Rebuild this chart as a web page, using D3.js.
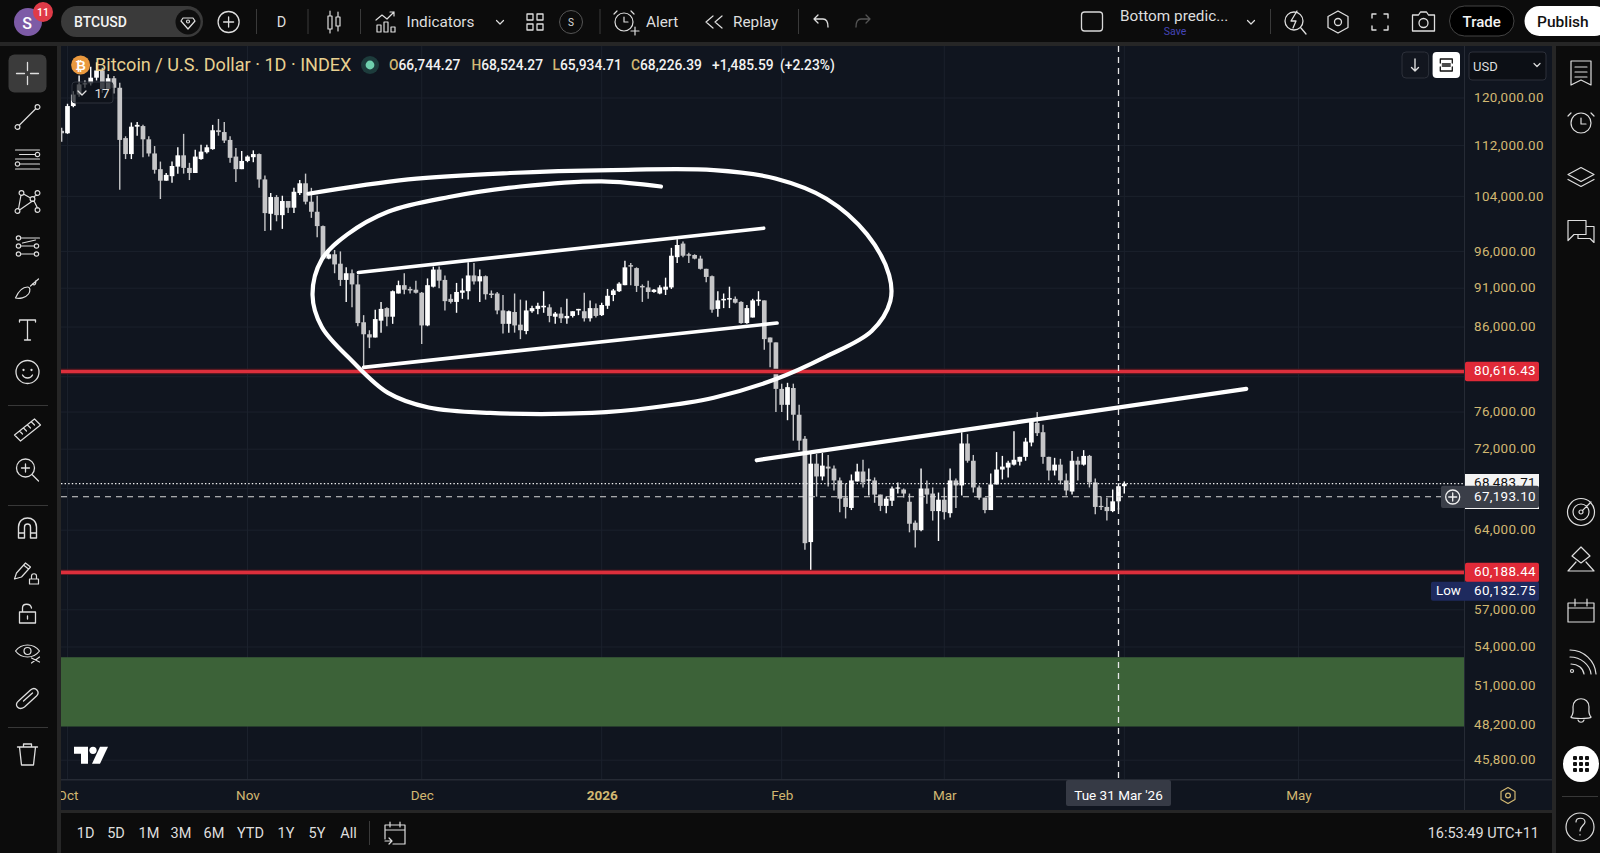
<!DOCTYPE html>
<html>
<head>
<meta charset="utf-8">
<title>BTCUSD 1D</title>
<script src="https://cdn.jsdelivr.net/npm/d3@7/dist/d3.min.js"></script>
<style>
  html, body { margin: 0; padding: 0; background: #0c0c0c; overflow: hidden; }
  svg { display: block; }
  text { font-family: Roboto, "Open Sans", sans-serif; }
</style>
</head>
<body>
<svg id="chart" width="1600" height="853"></svg>
<script>
// Daily sessions in thousands of USD, one value per day starting 30 Sep 2025.
const firstSession = "2025-09-30";
const opens = [
  114.4,114.0,118.6,120.6,122.4,122.6,123.6,124.9,121.6,123.5,
  121.8,113.2,110.6,115.1,115.2,113.0,110.7,108.2,106.4,107.1,
  108.6,110.4,108.4,107.6,109.8,110.9,111.4,114.5,114.2,112.9,
  110.2,108.2,109.5,110.1,110.6,106.6,101.4,103.9,101.2,103.3,
  102.3,104.5,106.0,103.2,101.7,99.6,95.0,95.6,94.3,92.1,
  93.0,91.5,86.6,85.1,84.7,86.8,88.4,87.3,90.3,91.4,
  90.9,90.8,90.4,86.2,91.2,93.5,92.1,89.6,89.2,90.4,
  90.6,92.7,91.9,92.6,90.3,90.3,88.1,86.4,87.9,86.3,
  85.5,88.0,88.3,88.5,88.5,87.3,87.7,87.1,87.4,88.1,
  88.0,87.1,88.4,87.5,88.7,90.1,90.6,91.4,94.1,93.7,
  91.3,91.1,90.5,90.3,90.8,91.1,95.2,97.1,95.6,95.5,
  95.0,93.6,92.6,88.3,89.4,89.5,89.6,89.2,86.5,87.2,
  89.3,89.4,84.7,84.1,78.6,76.8,78.7,75.7,73.1,62.9,
  70.5,69.2,70.2,70.0,68.8,67.1,66.1,68.7,69.7,68.8,
  68.8,67.4,66.3,66.8,68.0,67.9,66.7,64.7,64.0,68.0,
  67.5,65.8,66.9,65.6,68.8,68.3,72.6,70.8,68.1,67.1,
  65.9,68.4,69.9,70.1,70.4,70.7,71.2,72.7,74.8,73.8,
  71.2,69.8,70.4,68.8,67.7,70.8,70.4,71.3,68.6,66.3,
  66.2,65.8,66.74427,68.22639
];
const highs = [
  114.9,119.0,121.2,124.0,123.1,125.6,126.4,125.4,124.2,123.9,
  122.7,113.5,115.8,115.9,115.4,113.5,111.9,109.4,107.6,109.4,
  111.7,113.9,109.2,111.3,112.1,112.1,115.4,116.4,115.9,113.5,
  111.6,111.1,110.4,111.2,110.7,107.2,104.5,104.2,104.1,103.3,
  105.3,106.5,107.5,105.3,104.1,99.7,96.2,96.2,96.0,93.8,
  93.5,92.8,87.5,85.6,88.2,89.2,88.5,90.7,92.0,93.0,
  91.2,92.0,90.5,92.3,93.9,93.9,92.7,90.2,91.7,92.3,
  94.5,94.4,93.5,92.7,90.7,90.5,90.1,88.1,90.3,89.5,
  89.4,88.7,89.1,90.6,88.9,87.9,88.5,89.6,88.0,88.3,
  90.4,89.4,89.0,89.1,90.9,90.9,91.8,94.7,94.4,93.8,
  91.5,92.0,90.9,91.4,92.4,96.5,97.7,97.4,95.8,95.6,
  95.4,93.6,92.7,90.6,90.3,91.2,89.9,89.3,88.8,89.6,
  90.6,89.4,84.7,84.1,79.2,79.3,79.2,76.8,73.4,71.5,
  71.5,71.6,71.4,70.3,69.1,68.5,69.4,70.5,70.9,70.0,
  69.1,67.4,67.2,68.2,68.6,68.0,67.5,64.9,70.0,68.8,
  68.1,67.6,68.1,70.0,69.0,73.8,73.6,71.4,68.3,67.1,
  69.5,71.7,71.3,70.8,73.9,71.2,73.2,75.2,76.0,74.6,
  71.2,71.1,71.0,69.5,71.8,71.2,71.9,71.4,69.0,67.2,
  67.1,67.9,68.52427,68.7
];
const lows = [
  112.6,113.9,118.4,120.2,121.8,122.2,123.1,120.9,121.3,120.8,
  105.0,109.8,109.8,113.6,110.1,110.2,107.5,103.6,106.4,106.1,
  107.5,107.5,106.5,107.6,109.7,110.7,111.3,113.6,112.4,109.2,
  106.2,108.2,109.3,109.3,105.3,98.9,99.0,100.3,99.2,101.5,
  101.5,104.2,102.8,100.8,98.0,94.9,94.9,93.0,91.3,89.2,
  88.5,86.1,80.9,83.4,84.7,85.3,86.1,86.4,90.3,90.2,
  90.3,90.3,83.9,86.1,91.1,91.0,88.1,89.0,87.8,89.6,
  89.5,91.5,89.2,89.5,89.7,87.6,85.2,85.3,85.3,84.5,
  85.1,87.8,87.6,87.8,86.6,86.4,86.5,86.4,87.2,87.5,
  86.7,86.7,87.2,87.4,88.3,89.3,90.5,91.4,91.4,90.5,
  89.2,89.6,90.4,90.2,90.1,90.9,94.4,95.2,94.4,94.9,
  93.5,91.8,87.8,87.3,88.4,88.4,89.0,86.4,86.4,87.2,
  88.7,83.2,81.1,76.0,76.0,75.1,72.9,71.9,62.2,60.13275,
  67.2,68.8,68.2,67.8,65.7,65.1,65.9,68.7,68.1,67.3,
  66.6,65.8,65.6,66.3,67.5,67.1,63.8,62.4,63.9,66.5,
  64.9,63.0,65.0,65.2,66.1,67.3,70.6,67.6,66.9,65.6,
  65.9,68.4,68.9,69.1,70.3,70.3,70.8,72.3,73.4,70.5,
  68.8,69.3,68.4,67.3,67.4,68.8,70.3,68.1,65.5,65.9,
  64.9,65.7,65.93471,67.5
];
const closes = [
  114.0,118.6,120.6,122.4,122.6,123.6,124.9,121.6,123.5,121.8,
  112.9,110.6,115.1,115.4,113.0,110.7,108.1,106.4,107.3,108.7,
  110.4,108.4,107.6,110.2,111.0,111.7,114.5,114.2,112.8,110.0,
  108.2,109.5,110.2,110.6,106.6,101.5,103.9,101.2,103.3,102.3,
  104.7,106.0,103.2,101.7,99.6,95.0,95.6,94.2,92.1,93.0,
  91.5,86.5,85.1,84.7,87.0,88.3,87.3,90.6,91.4,90.8,
  90.7,90.4,86.2,91.4,93.5,92.0,89.3,89.2,90.5,90.7,
  92.7,91.9,92.6,90.2,90.1,88.1,86.4,88.0,86.2,85.6,
  88.1,88.4,88.7,88.7,87.4,87.7,87.1,87.4,88.0,88.3,
  87.1,88.4,87.4,88.8,90.0,90.7,91.6,93.8,93.9,91.3,
  91.1,90.5,90.8,91.1,91.2,95.4,96.9,95.4,95.4,95.0,
  93.6,92.5,88.2,89.4,89.6,89.7,89.1,86.5,88.4,89.4,
  89.5,84.5,84.1,78.6,76.8,78.8,75.7,72.9,62.8,70.5,
  69.2,70.3,70.0,68.8,67.0,66.2,68.8,69.7,68.6,68.9,
  67.4,66.3,67.0,68.0,68.1,67.5,64.6,64.0,68.0,67.4,
  65.8,66.9,65.7,68.8,68.3,72.6,70.8,68.1,67.1,65.9,
  68.4,69.9,70.2,70.6,70.9,71.2,72.8,74.9,73.7,71.2,
  69.8,70.4,68.8,67.8,70.8,70.4,71.3,68.6,66.2,66.2,
  65.8,66.7408,68.22639,68.48371
];

// Axis contents. The April gridline has no label: the cursor date tag sits on it.
const priceTicks = [120000,112000,104000,96000,91000,86000,76000,72000,64000,57000,54000,51000,48200,45800];
const monthTicks = ["2025-10-01","2025-11-01","2025-12-01","2026-01-01","2026-02-01","2026-03-01","2026-04-01","2026-05-01"];
const monthLabels = ["Oct","Nov","Dec","2026","Feb","Mar","","May"];

// Reference levels and readouts.
const redLevels = [80616.43, 60188.44];
const lastPrice = 68483.71;
const cursorPrice = 67193.10;
const cursorDate = "2026-03-31";
const lowPrice = 60132.75;
const demandZone = [53200, 48100];

// Drawn trend lines and the freehand loop: [days after 1 Nov 2025, price in thousands].
const channelTop = [[19.1,93.1],[88.9,99.3]];
const channelBottom = [[20,81.1],[91.2,86.5]];
const risingLine = [[87.7,70.85],[172,78.6]];
const freehandLoop = [[10.5,104.4],[27.7,106.6],[45.2,107.6],[62.8,108.05],[80.3,108.05],[90.9,106.75],[99.7,103.65],[106.7,98.4],[110.5,92.75],[110.7,89.3],[107.5,85.5],[99.7,82.4],[90.9,79.7],[80.3,77.6],[69.8,76.5],[59.3,75.9],[41.8,75.9],[31.2,76.5],[24.2,78.15],[18.1,81.8],[12.8,86.0],[11.2,90.1],[12.8,94.9],[17.2,98.4],[24.2,101.7],[34.7,103.9],[47,105.5],[61,106.3],[71.2,105.5]];

// Layout.
const pane = { left: 61, right: 1464, top: 46, bottom: 779 };
const scaleRight = 1552;
const axisBottom = 810;
const GOLD = "#d2b872";
const NAVY = "#10151f";
const CHROME = "#0c0c0c";
const INK = "#dedede";
const RED = "#dc2f3c";

const utc = s => new Date(s + "T00:00:00Z");
const x = d3.scaleUtc().domain([utc("2025-11-01"), utc("2026-05-01")]).range([247.5, 1298.5]);
const y = d3.scaleLog().domain([120000, 45800]).range([98, 760.2]);
const dayX = d => x(new Date(+utc("2025-11-01") + d * 864e5));
const fmt = d3.format(",.2f");

const svg = d3.select("#chart");
const rect = (g, a, b, c, d, fill, extra = {}) => {
  const r = g.append("rect").attr("x", a).attr("y", b).attr("width", c).attr("height", d).attr("fill", fill);
  Object.entries(extra).forEach(([k, v]) => r.attr(k, v));
  return r;
};
const label = (g, a, b, str, size, fill, anchor = "start", weight = 400) =>
  g.append("text").attr("x", a).attr("y", b).attr("dy", "0.35em").attr("font-size", size)
    .attr("fill", fill).attr("text-anchor", anchor).attr("font-weight", weight).text(str);
const ring = (a, b, r) => `M${a - r} ${b}a${r} ${r} 0 1 0 ${2 * r} 0a${r} ${r} 0 1 0 ${-2 * r} 0`;
const icon = (g, a, b, d, w = 1.2, col = INK) =>
  g.append("path").attr("transform", `translate(${a},${b})`).attr("d", d)
    .attr("fill", "none").attr("stroke", col).attr("stroke-width", w)
    .attr("stroke-linecap", "round").attr("stroke-linejoin", "round");

// Window backdrop and chart panels.
rect(svg, 0, 0, 1600, 853, CHROME);
rect(svg, 0, 42, 1600, 4, "#262626");
rect(svg, 57, 46, 4, 807, "#262626");
rect(svg, scaleRight, 46, 4, 807, "#262626");
rect(svg, pane.left, pane.top, scaleRight - pane.left, axisBottom - pane.top, NAVY);
rect(svg, pane.left, axisBottom, scaleRight - pane.left + 4, 3, "#262626");
rect(svg, pane.left, pane.bottom, scaleRight - pane.left, 1.5, "#262b35");
rect(svg, pane.right, pane.top, 1, axisBottom - pane.top, "#262b35");

// Clip regions for the plot and the time axis.
const defs = svg.append("defs");
defs.append("clipPath").attr("id", "plotClip").append("rect")
  .attr("x", pane.left).attr("y", pane.top).attr("width", pane.right - pane.left).attr("height", pane.bottom - pane.top);
defs.append("clipPath").attr("id", "timeClip").append("rect")
  .attr("x", pane.left).attr("y", pane.bottom).attr("width", pane.right - pane.left).attr("height", axisBottom - pane.bottom);

const plot = svg.append("g").attr("clip-path", "url(#plotClip)");

// Grid.
plot.append("g").selectAll("line").data(priceTicks.concat([80000, 68000, 60000])).join("line")
  .attr("x1", pane.left).attr("x2", pane.right).attr("y1", d => y(d)).attr("y2", d => y(d))
  .attr("stroke", "#1b212c").attr("stroke-width", 1);
plot.append("g").selectAll("line").data(monthTicks).join("line")
  .attr("x1", d => x(utc(d))).attr("x2", d => x(utc(d))).attr("y1", pane.top).attr("y2", pane.bottom)
  .attr("stroke", "#1b212c").attr("stroke-width", 1);

// Demand zone.
rect(plot, pane.left, y(demandZone[0]), pane.right - pane.left, y(demandZone[1]) - y(demandZone[0]), "#3c6238");

// Candles.
const sessions = opens.map((o, i) => ({
  date: d3.utcDay.offset(utc(firstSession), i), o: o * 1000, h: highs[i] * 1000, l: lows[i] * 1000, c: closes[i] * 1000
}));
const candles = plot.append("g").selectAll("g").data(sessions).join("g");
const upColor = "#ffffff", downColor = "#c6c6c8";
const tint = d => d.c >= d.o ? upColor : downColor;
candles.append("line")
  .attr("x1", d => x(d.date)).attr("x2", d => x(d.date)).attr("y1", d => y(d.h)).attr("y2", d => y(d.l))
  .attr("stroke", tint).attr("stroke-width", 1.4);
candles.append("rect")
  .attr("x", d => x(d.date) - 2.35).attr("width", 4.7)
  .attr("y", d => y(Math.max(d.o, d.c)))
  .attr("height", d => Math.max(1.2, Math.abs(y(d.o) - y(d.c))))
  .attr("fill", tint);

// Horizontal levels.
plot.append("g").selectAll("line").data(redLevels).join("line")
  .attr("x1", pane.left).attr("x2", pane.right).attr("y1", d => y(d)).attr("y2", d => y(d))
  .attr("stroke", "#5e1a22").attr("stroke-width", 5.4);
plot.append("g").selectAll("line").data(redLevels).join("line")
  .attr("x1", pane.left).attr("x2", pane.right).attr("y1", d => y(d)).attr("y2", d => y(d))
  .attr("stroke", RED).attr("stroke-width", 3.2);

// Drawn lines and the loop.
const strokeLine = d3.line().x(p => dayX(p[0])).y(p => y(p[1] * 1000));
const drawn = plot.append("g").attr("fill", "none").attr("stroke", "#fff").attr("stroke-linecap", "round");
drawn.append("path").attr("d", strokeLine(channelTop)).attr("stroke-width", 3.6);
drawn.append("path").attr("d", strokeLine(channelBottom)).attr("stroke-width", 3.6);
drawn.append("path").attr("d", strokeLine(risingLine)).attr("stroke-width", 4.2);
drawn.append("path").attr("d", strokeLine.curve(d3.curveCatmullRom.alpha(0.5))(freehandLoop)).attr("stroke-width", 4.2);

// Last-price dotted line and cursor lines.
plot.append("line").attr("x1", pane.left).attr("x2", pane.right).attr("y1", y(lastPrice)).attr("y2", y(lastPrice))
  .attr("stroke", "#f2f2f2").attr("stroke-width", 1.2).attr("stroke-dasharray", "1.4 2.2");
plot.append("line").attr("x1", pane.left).attr("x2", pane.right).attr("y1", y(cursorPrice)).attr("y2", y(cursorPrice))
  .attr("stroke", "#d8d8d8").attr("stroke-width", 1.1).attr("stroke-dasharray", "6 5");
plot.append("line").attr("x1", x(utc(cursorDate))).attr("x2", x(utc(cursorDate))).attr("y1", pane.top).attr("y2", pane.bottom)
  .attr("stroke", "#e8e8e8").attr("stroke-width", 1.3).attr("stroke-dasharray", "6 5");

// Price axis.
const priceAxis = d3.axisRight(y).tickValues(priceTicks).tickSize(0).tickPadding(0).tickFormat(fmt);
const priceG = svg.append("g").attr("transform", "translate(1474,-1)").call(priceAxis);
priceG.select(".domain").remove();
priceG.selectAll("text").attr("fill", GOLD).attr("font-size", 13.4).attr("letter-spacing", "0.35px")
  .attr("font-family", "Roboto, sans-serif").attr("x", 0).attr("dy", "0.35em");

// Time axis.
const timeAxis = d3.axisBottom(x).tickValues(monthTicks.map(utc)).tickSize(0).tickPadding(0)
  .tickFormat((d, i) => monthLabels[i]);
const timeG = svg.append("g").attr("clip-path", "url(#timeClip)").append("g")
  .attr("transform", `translate(0,795)`).call(timeAxis);
timeG.select(".domain").remove();
timeG.selectAll("text").attr("fill", GOLD).attr("font-size", 13.5).attr("font-family", "Roboto, sans-serif")
  .attr("y", 0).attr("dy", "0.35em")
  .attr("font-weight", (d, i) => monthLabels[i] === "2026" ? 700 : 400);

// Price tags on the axis.
const tags = svg.append("g");
redLevels.forEach(v => {
  rect(tags, 1465, y(v) - 9.7, 74, 19.4, "#e02a38", { rx: 2 });
  label(tags, 1474, y(v) - 1, fmt(v), 13.4, "#fff").attr("letter-spacing", "0.35px");
});
rect(tags, 1431, 581.7, 108, 19, "#1e2a5e", { rx: 2 });
label(tags, 1436, 590.5, "Low", 13.4, "#fff");
label(tags, 1474, 590.5, fmt(lowPrice), 13.4, "#fff").attr("letter-spacing", "0.35px");
rect(tags, 1465, 474, 74, 35, "#f4f4f4");
label(tags, 1474, y(lastPrice) - 1, fmt(lastPrice), 13.4, "#111").attr("letter-spacing", "0.35px");
rect(tags, 1441, 485.7, 98, 22.3, "#3a3e48", { rx: 2 });
icon(tags, 1452.7, 497, ring(0, 0, 7) + "M-4 0H4M0 -4V4", 1.3, "#f0f0f0");
label(tags, 1474, y(cursorPrice), fmt(cursorPrice), 13.4, "#fff").attr("letter-spacing", "0.35px");

rect(tags, 1066, 780, 105, 26, "#363a45", { rx: 2 });
label(tags, x(utc(cursorDate)), 795, "Tue 31 Mar '26", 13.5, "#fff", "middle");
icon(tags, 1508, 795.5, "M0 -8L7 -4V4L0 8L-7 4V-4Z" + ring(0, 0, 2.4), 1.2, GOLD);

// Legend row over the plot.
const legend = svg.append("g");
legend.append("circle").attr("cx", 80.6).attr("cy", 65).attr("r", 9.5).attr("fill", "#e9983e");
label(legend, 80.6, 65, "₿", 13, "#fff", "middle", 700);
label(legend, 95, 65, "Bitcoin / U.S. Dollar · 1D · INDEX", 18.1, "#e8d08f");
legend.append("circle").attr("cx", 370).attr("cy", 65).attr("r", 9).attr("fill", "#1d3c3c");
legend.append("circle").attr("cx", 370).attr("cy", 65).attr("r", 4.4).attr("fill", "#6fd0ae");
[[389, "O", "66,744.27"], [471.4, "H", "68,524.27"], [552.5, "L", "65,934.71"], [631, "C", "68,226.39"]].forEach(([px, k, v]) => {
  const t = label(legend, px, 65, "", 13.8, "#f2f2f2", "start", 500);
  t.append("tspan").attr("fill", GOLD).text(k);
  t.append("tspan").text(v);
});
label(legend, 712, 65, "+1,485.59", 13.8, "#f2f2f2", "start", 500);
label(legend, 780, 65, "(+2.23%)", 13.8, "#f2f2f2", "start", 500);

// Collapsed-indicators button.
rect(legend, 72, 82, 41, 21, "#0e1219", { rx: 3, stroke: "#2e333d", "fill-opacity": 0.72 });
icon(legend, 82, 93, "M-4 -2L0 2L4 -2", 1.3);
label(legend, 102, 93, "17", 13.5, INK, "middle");

// Pane corner buttons.
rect(legend, 1402, 52, 26.6, 26, "#12161f", { rx: 4, stroke: "#2c303a" });
icon(legend, 1415, 65, "M0 -6V6M-3.5 2.5L0 6L3.5 2.5", 1.4);
rect(legend, 1432.6, 52, 27.4, 26, "#ffffff", { rx: 4 });
icon(legend, 1446.3, 65, "M-6 -2V-6H6V-2M-6 2V6H6V2M-4 -1H4M-4 1H4", 1.3, "#111");
rect(legend, 1469, 52, 77, 28, "#0c0f15", { rx: 3, stroke: "#2c303a" });
label(legend, 1473, 66, "USD", 13, INK);
icon(legend, 1537, 65, "M-3 -1.5L0 1.5L3 -1.5", 1.2);

// Platform logo.
const logo = svg.append("g").attr("transform", "translate(74,746.7)").attr("fill", "#fff");
logo.append("path").attr("d", "M0 0H14V17H7V7H0Z");
logo.append("circle").attr("cx", 19).attr("cy", 3.6).attr("r", 3.6);
logo.append("path").attr("d", "M26 0H34L26 17H18Z");

// Top toolbar.
const topBar = svg.append("g");
topBar.append("circle").attr("cx", 28).attr("cy", 22).attr("r", 14).attr("fill", "#7d5ba6");
label(topBar, 27, 23, "S", 16, "#fff", "middle", 500);
topBar.append("circle").attr("cx", 43).attr("cy", 12).attr("r", 10).attr("fill", "#df3b48");
label(topBar, 43, 12, "11", 10.5, "#fff", "middle", 500);
rect(topBar, 61, 6, 142, 31, "#3a3a3a", { rx: 15.5 });
label(topBar, 74, 22, "BTCUSD", 14, "#f4f4f4", "start", 500);
topBar.append("circle").attr("cx", 188).attr("cy", 22).attr("r", 12.5).attr("fill", "#0e0e0e");
icon(topBar, 188, 22, "M-5 -4H5L7 -1L0 7L-7 -1Z" + ring(0, -0.5, 1.5), 1.2);
icon(topBar, 228.6, 22, ring(0, 0, 10.5) + "M-5 0H5M0 -5V5", 1.3);
[256, 307.5, 360, 599.5, 798, 1270].forEach(px => rect(topBar, px, 9, 1, 25, "#3a3a3a"));
label(topBar, 281.6, 22, "D", 14.5, INK, "middle");
icon(topBar, 334, 22, "M-4 -11V-6M-4 7V11M-6 -6H-2V7H-6ZM4 -10V-5M4 4V9M2 -5H6V4H2Z", 1.2);
icon(topBar, 386, 23, "M-9 9V2H-5V9ZM-2 9V-1H2V9ZM5 9V4H9V9ZM-10 -3L-4 -8L1 -4L8 -11M4 -11H8V-7", 1.2);
label(topBar, 406.5, 22, "Indicators", 15.3, INK);
icon(topBar, 500, 22, "M-3.5 -1.5L0 2L3.5 -1.5", 1.2);
icon(topBar, 535, 22, "M-8 -8h6v6h-6zM2 -8h6v6h-6zM-8 2h6v6h-6zM2 2h6v6h-6z", 1.3);
icon(topBar, 571, 22, ring(0, 0, 11.5), 1, "#555");
label(topBar, 571, 22, "S", 10, "#ddd", "middle");
icon(topBar, 626, 22, ring(-2, 0, 9) + "M-2 -5V0H2M-9 -11L-12 -8M5 -11L8 -8M5 9H13M9 5V13", 1.2);
label(topBar, 646, 22, "Alert", 15.3, INK);
icon(topBar, 714, 22, "M-1 -6L-8 0L-1 6M8 -6L1 0L8 6", 1.2);
label(topBar, 733, 22, "Replay", 15.3, INK);
icon(topBar, 820, 22, "M-6 -3H3C7 -3 8 1 8 5M-6 -3L-2 -7M-6 -3L-2 1", 1.3);
icon(topBar, 864, 22, "M6 -3H-3C-7 -3 -8 1 -8 5M6 -3L2 -7M6 -3L2 1", 1.3, "#555");
rect(topBar, 1081.5, 12, 21, 19, "none", { stroke: "#d8d8d8", rx: 3, "stroke-width": 1.3 });
label(topBar, 1120, 16, "Bottom predic...", 15.3, INK);
label(topBar, 1175, 31, "Save", 10.5, "#4545b8", "middle");
icon(topBar, 1251, 22, "M-3.5 -1.5L0 2L3.5 -1.5", 1.2);
icon(topBar, 1295, 22, ring(-1, -1, 9) + "M6 6L11 12M2 -11L-4 -1H1L-2 6", 1.3);
icon(topBar, 1338, 22, "M0 -11L10 -5.5V5.5L0 11L-10 5.5V-5.5Z" + ring(0, 0, 3.5), 1.3);
icon(topBar, 1380, 22, "M-8 -4V-8H-4M4 -8H8V-4M8 4V8H4M-4 8H-8V4", 1.4);
icon(topBar, 1423.5, 22, "M-11 -7H-5L-3 -10H3L5 -7H11V9H-11Z" + ring(0, 1, 4.5), 1.3);
rect(topBar, 1449.5, 6, 64.5, 30, "#000", { rx: 15, stroke: "#444" });
label(topBar, 1481.7, 22, "Trade", 15, "#f4f4f4", "middle", 500);
rect(topBar, 1524.5, 6, 85, 30, "#fff", { rx: 15 });
label(topBar, 1537, 22, "Publish", 15.5, "#111", "start", 500);

// Left drawing toolbar.
const lft = svg.append("g");
const LX = 27.5;
rect(lft, LX - 19, 54.5, 38, 38, "#3b3b3b", { rx: 6 });
icon(lft, LX, 73.5, "M-11 0H-3M3 0H11M0 -11V-3M0 3V11", 1.3);
icon(lft, LX, 117, ring(-10, 10, 2.4) + ring(10, -10, 2.4) + "M-8 8L8 -8", 1.2);
icon(lft, LX, 159, "M-12 -9H12M-8 -4.5H8" + ring(10, -4.5, 2.2) + "M-12 0H12" + ring(-10, 5, 2.2) + "M-8 5H12M-12 10H12", 1.2);
icon(lft, LX, 202, ring(-10, 9, 2.4) + ring(-6, -9, 2.4) + ring(5, -3, 2.4) + ring(10, 8, 2.4) + ring(10, -9, 2.4) + "M-9 7L-6.5 -7M-4 -8L3 -4M-8 8L5 -1M6.5 -1L10 6M6 -5L9 -7", 1.2);
icon(lft, LX, 245, ring(-9, -7, 2.2) + ring(-9, 1, 2.2) + ring(-9, 9, 2.2) + ring(9, 1, 2.2) + ring(9, 9, 2.2) + "M-7 -7H12M-7 1H7M-7 9H7M-5 -2L8 -5", 1.2);
icon(lft, LX, 289, "M-12 9C-9 2 -5 -2 0 -2C3 -2 3 2 1 5C-2 9 -8 10 -12 9ZM3 -3L11 -10M5 -5C7 -3 9 -5 8 -8", 1.2);
icon(lft, LX, 330, "M-8 -8V-10H8V-8M0 -10V10M-3 10H3", 1.3);
icon(lft, LX, 372, ring(0, 0, 11.5) + ring(-4, -2, 0.5) + ring(4, -2, 0.5) + "M-5 3C-3 7 3 7 5 3", 1.3);
rect(lft, 8, 405, 40, 1, "#383838");
icon(lft, LX, 430, "M-13 5L7 -11L13 -5L-7 11ZM-8 1L-5 4M-4 -2L-1 1M0 -5L3 -2M4 -8L7 -5", 1.2);
icon(lft, LX, 470, ring(-2, -2, 9) + "M4.5 4.5L11 11M-6 -2H2M-2 -6V2", 1.3);
rect(lft, 8, 505, 40, 1, "#383838");
icon(lft, LX, 528, "M-9 10V-1C-9 -13 9 -13 9 -1V10H3V-1C3 -5 -3 -5 -3 -1V10ZM-9 5H-3M3 5H9", 1.4);
icon(lft, LX, 571, "M-13 8L-11 2L-2 -8L3 -4L-6 6ZM-4 -6L1 -2M2 8H11V13H2ZM4 8V5C4 2 9 2 9 5V8", 1.2);
icon(lft, LX, 613, "M-8 -1H8V10H-8ZM-5 -1V-5C-5 -10 3 -10 4 -5M0 3V6", 1.3);
icon(lft, LX, 653, "M-12 -2C-6 -10 6 -10 12 -2C6 6 -6 6 -12 -2Z" + ring(0, -2, 3.5) + "M4 10L12 4M4 5L12 9", 1.2);
icon(lft, LX, 698, "M-9 3L3 -8C8 -12 13 -6 9 -2L-3 9C-9 13 -14 7 -9 3ZM-4 3L5 -5", 1.3);
rect(lft, 8, 727, 40, 1, "#383838");
icon(lft, LX, 754, "M-10 -7H10M-4 -7V-10H4V-7M-8 -7L-6 11H6L8 -7", 1.3);

// Right side toolbar.
const rgt = svg.append("g");
const RX = 1581;
icon(rgt, RX, 73, "M-10 -12H10V12L0 7L-10 12ZM-6 -6H6M-6 -1H6M-6 4H6", 1.2);
icon(rgt, RX, 122, ring(0, 1, 10) + "M0 -4V2H5M-10 -9L-13 -6M10 -9L13 -6", 1.2);
icon(rgt, RX, 175.5, "M0 -8L13 -1L0 6L-13 -1ZM-13 4L0 11L13 4", 1.2);
icon(rgt, RX, 229.5, "M-13 -9H5V5H-7L-13 11ZM5 -3H13V13L9 9H-3V5", 1.2);
icon(rgt, RX, 512, ring(0, 0, 13.5) + ring(0, 0, 8) + ring(0, 0, 2) + "M1.5 -1.5L10 -10", 1.2);
icon(rgt, RX, 560, "M0 -13L9 -4L0 3L-9 -4ZM-5 2L-13 11H13L5 2", 1.2);
icon(rgt, RX, 610, "M-13 -7H13V12H-13ZM-13 -2H13M-6 -11V-4M6 -11V-4", 1.2);
icon(rgt, RX, 661, ring(-9, 10, 1.5) + "M-10 3C-3 3 2 7 3 13M-11 -4C0 -4 9 4 10 13M-11 -11C3 -11 14 0 15 13", 1.2);
icon(rgt, RX, 711, "M-10 6C-7 3 -8 -1 -8 -4C-8 -15 8 -15 8 -4C8 -1 7 3 10 6C11 8 -11 8 -10 6ZM-3 9C-2 12 2 12 3 9", 1.2);
rgt.append("circle").attr("cx", RX).attr("cy", 764).attr("r", 18).attr("fill", "#fff");
[-6, 0, 6].forEach(a => [-6, 0, 6].forEach(b =>
  rect(rgt, RX + a - 2, 764 + b - 2, 4, 4, "#111", { rx: 1 })));
rect(rgt, 1562, 796, 36, 1, "#383838");
icon(rgt, 1580, 827, ring(0, 0, 14) + "M-4 -5C-4 -10 5 -10 5 -5C5 -2 0 -1 0 4M0 7.5V8", 1.2);

// Bottom bar.
const bot = svg.append("g");
[["1D", 85.7], ["5D", 116], ["1M", 149], ["3M", 181], ["6M", 214], ["YTD", 250.5], ["1Y", 286], ["5Y", 317], ["All", 348.5]]
  .forEach(([t, px]) => label(bot, px, 833, t, 14.5, INK, "middle"));
rect(bot, 369, 821, 1, 24, "#3a3a3a");
icon(bot, 395, 833, "M-10 -8H10V11H-2M-10 -8V6M-10 -3H10M-5 -11V-6M5 -11V-6M-10 8H-3M-6 5L-3 8L-6 11", 1.2);
label(bot, 1539, 833, "16:53:49 UTC+11", 14.5, INK, "end");
</script>
</body>
</html>
